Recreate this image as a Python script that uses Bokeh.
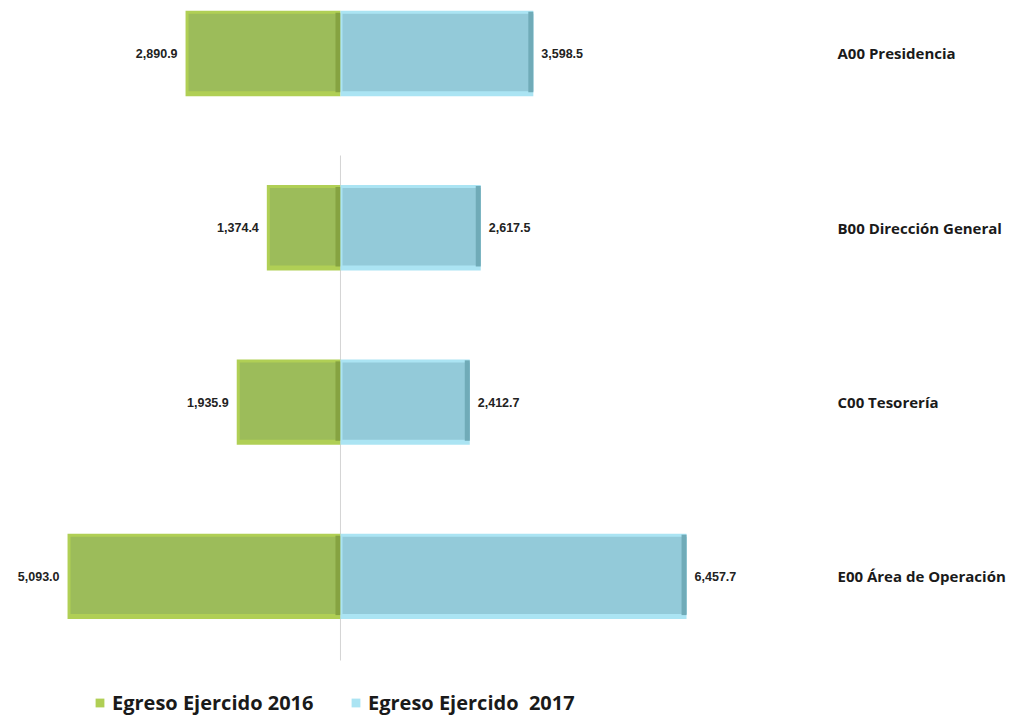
from bokeh.plotting import figure
from bokeh.models import Range1d, Legend, LegendItem
from bokeh.core.properties import value
from bokeh.embed import file_html
from bokeh.resources import INLINE

# ---- data ----
categories = ["A00 Presidencia", "B00 Dirección General", "C00 Tesorería", "E00 Área de Operación"]
egreso_2016 = [2890.9, 1374.4, 1935.9, 5093.0]
egreso_2017 = [3598.5, 2617.5, 2412.7, 6457.7]
series_names = ["Egreso Ejercido 2016", "Egreso Ejercido  2017"]

# ---- layout constants ----
W, H = 1018, 716
X0 = -6344.0
XPX = 18.66
X1 = X0 + W * XPX
Y1 = 3.304
YPX = 1 / 174.3
Y0 = Y1 - H * YPX
BAR_H = 0.49

n = len(categories)
ys = [n - 1 - i for i in range(n)]
top = [y + BAR_H / 2 for y in ys]
bot = [y - BAR_H / 2 for y in ys]

p = figure(width=W, height=H, output_backend="svg", toolbar_location=None,
           x_range=Range1d(X0, X1), y_range=Range1d(Y0, Y1),
           x_axis_location=None, y_axis_location=None,
           min_border=0, outline_line_color=None, background_fill_color="white",
           border_fill_color="white")
p.grid.visible = False

# centre line
p.segment(x0=[0], y0=[Y1 - 660 * YPX], x1=[0], y1=[Y1 - 155 * YPX], line_color="#d4d4d4", line_width=1)

neg16 = [-v for v in egreso_2016]
zeros = [0] * n

# ---- 2016 bars (green, bevelled) ----
g_base = p.quad(left=neg16, right=zeros, top=top, bottom=bot, fill_color="#b0cf55", line_color=None)
p.quad(left=[v + 3 * XPX for v in neg16], right=zeros, top=[t - 3 * YPX for t in top],
       bottom=[b + 5 * YPX for b in bot], fill_color="#9cbc5a", line_color=None)
p.quad(left=[-5 * XPX] * n, right=zeros, top=[t - 2 * YPX for t in top],
       bottom=[b + 4 * YPX for b in bot], fill_color="#86a341", line_color=None)

# ---- 2017 bars (blue, bevelled) ----
b_base = p.quad(left=zeros, right=egreso_2017, top=top, bottom=bot, fill_color="#abe4f3", line_color=None)
p.quad(left=[2 * XPX] * n, right=egreso_2017, top=[t - 3 * YPX for t in top],
       bottom=[b + 5 * YPX for b in bot], fill_color="#93cad9", line_color=None)
p.quad(left=[v - 5 * XPX for v in egreso_2017], right=egreso_2017, top=[t - 1 * YPX for t in top],
       bottom=[b + 4 * YPX for b in bot], fill_color="#70abb8", line_color=None)

# ---- value labels ----
p.text(x=neg16, y=ys, text=[f"{v:,.1f}" for v in egreso_2016], x_offset=-8,
       text_align="right", text_baseline="middle", text_font=value("Liberation Sans"),
       text_font_style="bold", text_font_size="12.5px", text_color="#222222")
p.text(x=egreso_2017, y=ys, text=[f"{v:,.1f}" for v in egreso_2017], x_offset=8,
       text_align="left", text_baseline="middle", text_font=value("Liberation Sans"),
       text_font_style="bold", text_font_size="12.5px", text_color="#222222")

# ---- category labels ----
p.text(x=[X0 + 837 * XPX] * n, y=ys, text=categories, text_align="left", text_baseline="middle",
       text_font=value("Open Sans"), text_font_style="bold", text_font_size="15px",
       text_color="#1a1a1a")

# ---- legends ----
for name, rend, xloc in [(series_names[0], g_base, 94), (series_names[1], b_base, 350)]:
    lg = Legend(items=[LegendItem(label=name, renderers=[rend])], location=(xloc, 0),
                orientation="horizontal", padding=0, margin=0, border_line_color=None,
                background_fill_alpha=0, glyph_width=11, glyph_height=11, label_standoff=7,
                label_text_font="Open Sans", label_text_font_style="bold",
                label_text_font_size="20px", label_text_color="#1a1a1a", label_height=20)
    p.add_layout(lg)

open("out.html", "w").write(file_html(p, INLINE))
